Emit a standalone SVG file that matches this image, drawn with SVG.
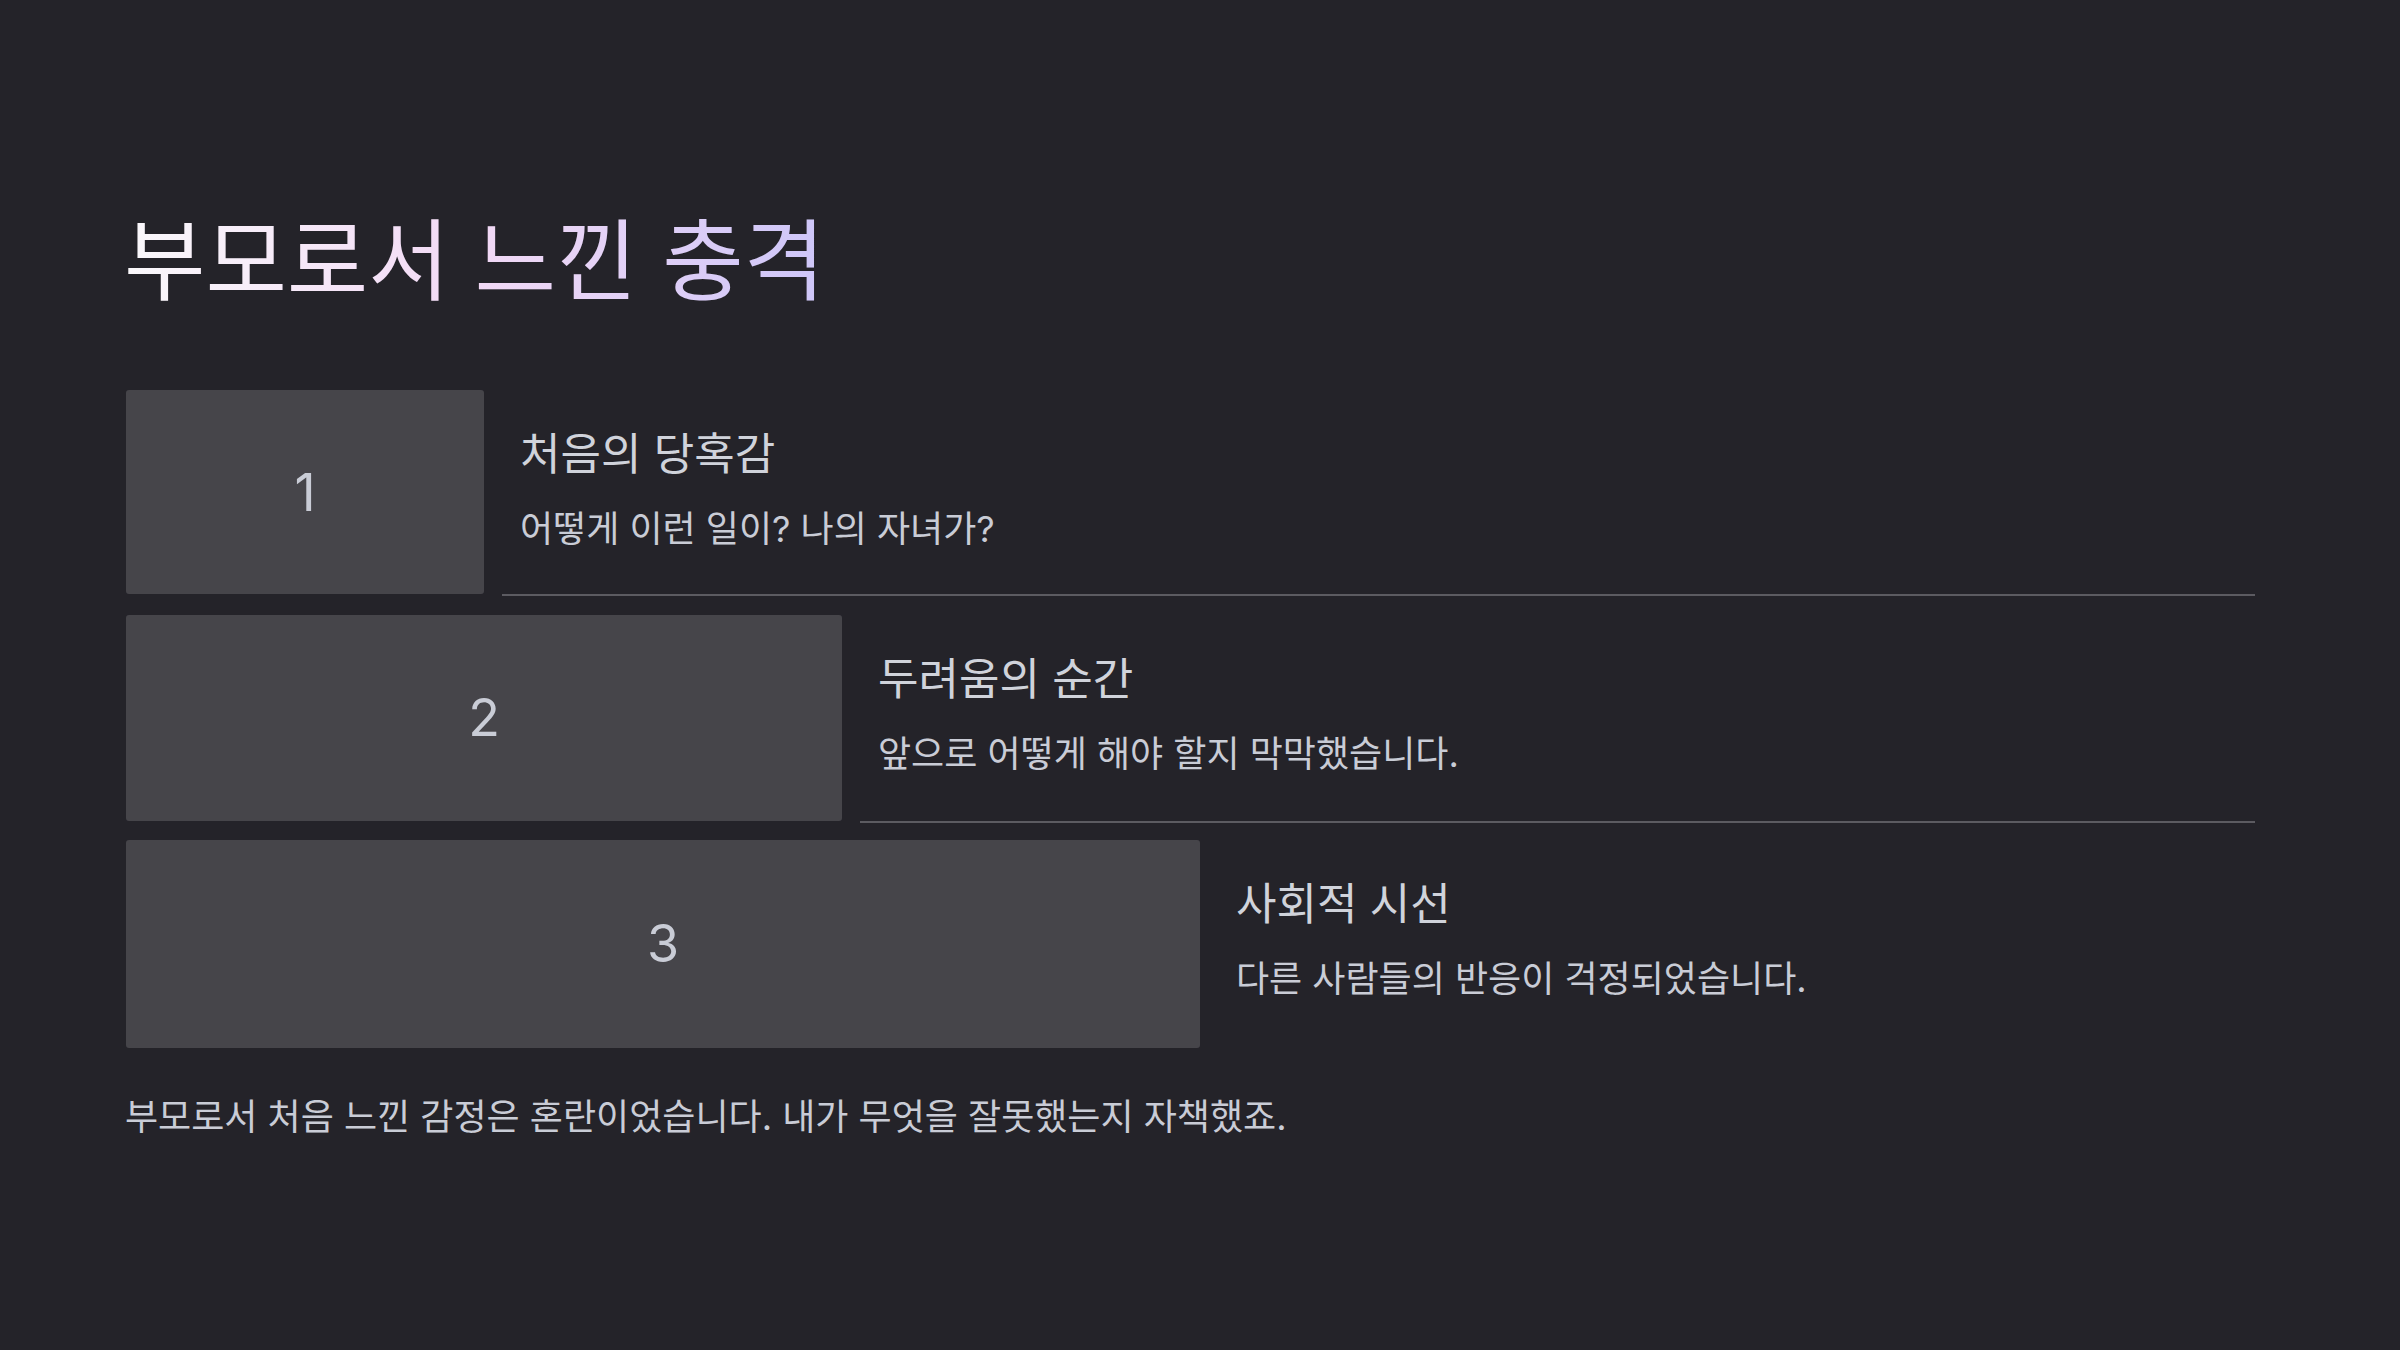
<svg xmlns="http://www.w3.org/2000/svg" width="2400" height="1350" viewBox="0 0 2400 1350">
<style>
.box{fill:#46454a;}
.num{font-family:Inter,"Noto Sans CJK KR",sans-serif;font-size:52px;fill:#c9ccd6;text-anchor:middle;}
.head{font-family:Inter,"Noto Sans CJK KR",sans-serif;font-size:44px;fill:#d0d3db;}
.desc{font-family:Inter,"Noto Sans CJK KR",sans-serif;font-size:36px;fill:#c9ccd6;}
.div{stroke:#5c5b61;stroke-width:2;}
</style>
<defs>
<linearGradient id="tg" x1="125" y1="0" x2="822" y2="0" gradientUnits="userSpaceOnUse">
<stop offset="0" stop-color="#faf8fb"/>
<stop offset="0.5" stop-color="#f2d9f5"/>
<stop offset="1" stop-color="#cec6f8"/>
</linearGradient>
</defs>
<rect width="2400" height="1350" fill="#242329"/>
<text x="124" y="293" font-family="Inter, Noto Sans CJK KR, sans-serif" font-size="88.5" fill="url(#tg)">부모로서 느낀 충격</text>
<g id="connectors">
<line class="div" x1="502" y1="595" x2="2255" y2="595"/>
<line class="div" x1="860" y1="822" x2="2255" y2="822"/>
</g>
<g id="node1">
<rect class="box" x="126" y="390" width="358" height="204" rx="3"/>
<text class="num" x="305" y="511">1</text>
<text class="head" x="520" y="470">처음의 당혹감</text>
<text class="desc" x="520" y="542">어떻게 이런 일이? 나의 자녀가?</text>
</g>
<g id="node2">
<rect class="box" x="126" y="615" width="716" height="206" rx="3"/>
<text class="num" x="484" y="736">2</text>
<text class="head" x="878" y="695">두려움의 순간</text>
<text class="desc" x="878" y="767">앞으로 어떻게 해야 할지 막막했습니다.</text>
</g>
<g id="node3">
<rect class="box" x="126" y="840" width="1074" height="208" rx="3"/>
<text class="num" x="663" y="962">3</text>
<text class="head" x="1236" y="920">사회적 시선</text>
<text class="desc" x="1236" y="992">다른 사람들의 반응이 걱정되었습니다.</text>
</g>
<text class="desc" x="125" y="1130">부모로서 처음 느낀 감정은 혼란이었습니다. 내가 무엇을 잘못했는지 자책했죠.</text>
</svg>
